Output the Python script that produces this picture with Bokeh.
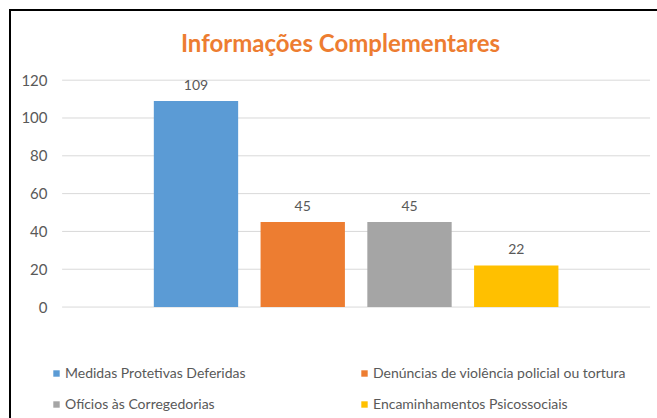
from bokeh.plotting import figure
from bokeh.models import ColumnDataSource, Legend, LegendItem, FixedTicker, Range1d, Label
from bokeh.core.properties import value
from bokeh.embed import file_html
from bokeh.resources import INLINE

categories = ["Medidas Protetivas Deferidas",
              "Denúncias de violência policial ou tortura",
              "Ofícios às Corregedorias",
              "Encaminhamentos Psicossociais"]
values = [109, 45, 45, 22]
colors = ["#5B9BD5", "#ED7D31", "#A5A5A5", "#FFC000"]
positions = [1, 2, 3, 4]
y_ticks = [0, 20, 40, 60, 80, 100, 120]
title_text = "Informações Complementares"
legend_order = [0, 2, 1, 3]  # column-major fill -> rows: (0,1), (2,3)

FONT = "Lato"
O = 11  # canvas offset (margin + border)

p = figure(width=657 - O, height=418 - O, output_backend="svg", toolbar_location=None,
           x_range=Range1d(-0.3628, 5.2575), y_range=Range1d(-55.77, 156.33),
           min_border_left=50 - O, min_border_right=9, min_border_top=0, min_border_bottom=8)
p.styles = {"margin-left": "9px", "margin-top": "9px",
            "box-sizing": "content-box",
            "border-style": "solid", "border-color": "black",
            "border-width": "2px 0px 0px 2px"}

# title
p.add_layout(Label(x=290, y=370, x_units="screen", y_units="screen", text=title_text,
                   text_align="center", text_baseline="middle",
                   text_font=FONT, text_font_size="24px", text_font_style="bold",
                   text_color="#ED7D31"))

# gridlines
p.segment(x0=[-0.254] * len(y_ticks), x1=[5.254] * len(y_ticks), y0=y_ticks, y1=y_ticks,
          line_color="#D9D9D9", line_width=1)

renderers = []
for i in range(4):
    src = ColumnDataSource(dict(x=[positions[i]], top=[values[i]], lab=[str(values[i])]))
    r = p.vbar(x="x", top="top", width=0.79, source=src, fill_color=colors[i], line_color=None)
    renderers.append(r)
    p.text(x="x", y="top", text="lab", source=src, text_align="center", text_baseline="middle",
           y_offset=-16, text_font=value(FONT), text_font_size="14px", text_color="#595959")

p.xaxis.visible = False
p.yaxis.ticker = FixedTicker(ticks=y_ticks)
p.yaxis.axis_line_color = None
p.yaxis.major_tick_line_color = None
p.yaxis.major_tick_out = 0
p.yaxis.major_tick_in = 0
p.yaxis.minor_tick_line_color = None
p.yaxis.major_label_standoff = 3
p.yaxis.major_label_text_font = FONT
p.yaxis.major_label_text_font_size = "15px"
p.yaxis.major_label_text_color = "#595959"
p.xgrid.grid_line_color = None
p.ygrid.grid_line_color = None
p.outline_line_color = None

legend = Legend(items=[LegendItem(label=categories[k], renderers=[renderers[k]]) for k in legend_order],
                ncols=2, location=(2, 0), padding=0, margin=0,
                spacing=14, label_height=16, label_width=281, glyph_width=8, glyph_height=8,
                label_standoff=5, label_text_font=FONT, label_text_font_size="14px",
                label_text_color="#595959", border_line_color=None,
                background_fill_alpha=0)
p.add_layout(legend, "center")

open("out.html", "w").write(file_html(p, INLINE))
